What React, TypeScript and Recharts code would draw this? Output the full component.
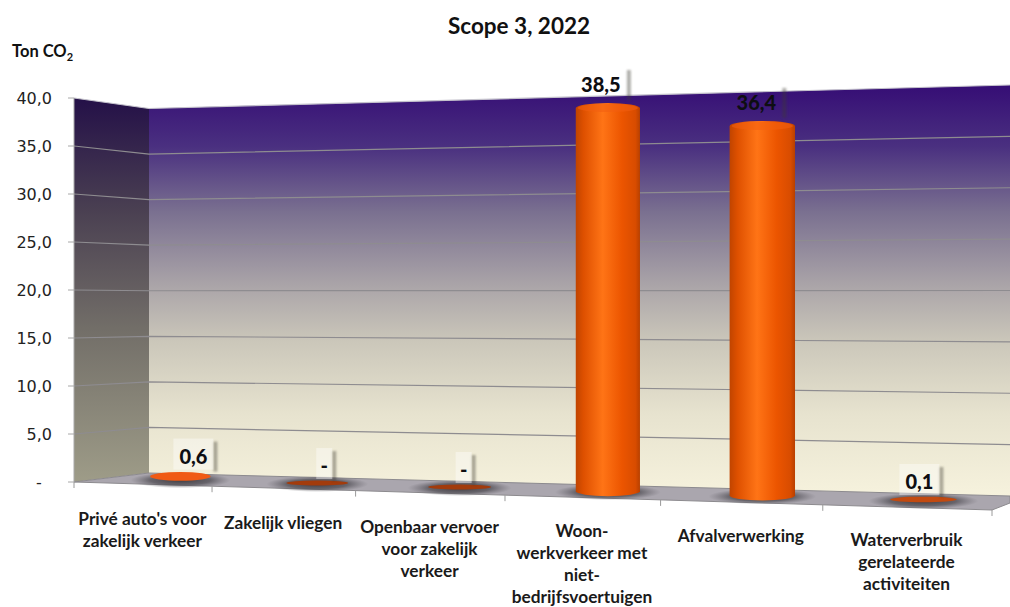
import { BarChart, Bar, XAxis, YAxis, CartesianGrid, LabelList } from "recharts"

const categories = [
  "Privé auto's voor\nzakelijk verkeer",
  "Zakelijk vliegen",
  "Openbaar vervoer\nvoor zakelijk\nverkeer",
  "Woon-\nwerkverkeer met\nniet-\nbedrijfsvoertuigen",
  "Afvalverwerking",
  "Waterverbruik\ngerelateerde\nactiviteiten",
]
const tonCo2 = [0.6, 0, 0, 38.5, 36.4, 0.1]
const yTicks = [0, 5, 10, 15, 20, 25, 30, 35, 40]

const chartData = categories.map((name, i) => ({ name, value: tonCo2[i] }))

// flat plot rectangle, everything 3D is projected from it
const LEFT = 74
const RIGHT = 992
const TOP = 98
const BOTTOM = 482

// sideways shift of each value label against its column
const labelNudge = [13, 7, 4, -7, -6, -4]

const fmt = (v: number) => (v === 0 ? "-" : v.toFixed(1).replace(".", ","))
const fmtTick = (v: number) => (v === 0 ? "-\u00a0\u00a0" : v.toFixed(1).replace(".", ","))

// perspective squeeze along the width of the floor
const warp = (t: number) => t / (1.13 - 0.13 * t)
const toT = (x: number) => (x - LEFT) / (RIGHT - LEFT)
const frontX = (t: number) => LEFT + (RIGHT - LEFT) * warp(t)
const frontY = (x: number) => BOTTOM + (x - LEFT) * 0.0305
const columnX = (t: number) => 113.5 + 892.5 * warp(t)
const columnBase = (x: number) => 483 + 0.028 * (x - 316)
// columns further right stand closer to the viewer
const heightScale = (t: number) => 0.963 + 0.126 * t

const cornerY = (v: number) => 473 - 364.5 * v
const farY = (v: number) => 496 - 411 * v

function WallLine(props: any) {
  const v = (BOTTOM - props.y1) / (BOTTOM - TOP)
  if (v < 0.01) return <g />
  const top = v > 0.99
  return (
    <polyline
      points={`${LEFT},${props.y1} 149,${cornerY(v)} 1010,${farY(v)}`}
      fill="none"
      stroke={top ? "#c4c2cc" : "#8e8c90"}
      strokeWidth={1.2}
    />
  )
}

function Column(props: any) {
  const { x, width, height, value } = props
  const t = toT(x + width / 2)
  const cx = columnX(t)
  const w = width * (1 + 0.12 * t)
  const rx = w / 2
  const base = columnBase(cx)
  const h = height * heightScale(t)
  const top = base - h
  const tall = value > 10
  const ry = 5
  const flatFill = value === 0 ? "#a23b0c" : value < 0.5 ? "#c24a10" : "#f05a14"
  return (
    <g>
      <ellipse cx={cx} cy={base + 1} rx={rx * 1.65} ry={8} fill="url(#floorShadow)" />
      {tall ? (
        <>
          <path
            d={`M${cx - rx},${top} A${rx},${ry} 0 0 1 ${cx + rx},${top} L${cx + rx},${base} A${rx},${ry} 0 0 1 ${cx - rx},${base} Z`}
            fill="url(#columnBody)"
          />
          <ellipse cx={cx} cy={top} rx={rx - 2} ry={ry - 1} fill="#f25e10" opacity={0.55} />
        </>
      ) : (
        <ellipse cx={cx} cy={base - h / 2} rx={rx} ry={2.5 + h / 3} fill={flatFill} />
      )}
    </g>
  )
}

function ValueLabel(props: any) {
  const { x, y, width, value, index } = props
  const t = toT(x + width / 2)
  const cx = columnX(t)
  const top = columnBase(cx) - (BOTTOM - y) * heightScale(t)
  const tx = cx + labelNudge[index]
  const ty = top - (value > 10 ? 24 : 18)
  const half = value === 0 ? 8 : value > 10 ? 26 : 20
  return (
    <g>
      <rect x={tx + half} y={ty - 14} width={4} height={30} fill="#3c3a30" opacity={0.4} filter="url(#soft)" />
      {value < 10 && <rect x={tx - half} y={ty - 17} width={half * 2} height={31} fill="#ffffff" opacity={0.4} />}
      <text
        x={tx}
        y={ty}
        textAnchor="middle"
        dominantBaseline="central"
        fontFamily="Lato"
        fontWeight={900}
        fontSize={20}
        fill="#0e0e12"
      >
        {fmt(value)}
      </text>
    </g>
  )
}

function CategoryTick(props: any) {
  const { x, payload } = props
  const cx = frontX(toT(x))
  const y0 = 521 + 0.028 * (cx - 142)
  return (
    <text textAnchor="middle" fontFamily="Lato" fontWeight="bold" fontSize={17.3} fill="#1a1a1a">
      {String(payload.value)
        .split("\n")
        .map((line, i) => (
          <tspan key={i} x={cx} y={y0 + i * 22 + 4}>
            {line}
          </tspan>
        ))}
    </text>
  )
}

export default function App() {
  const edges = categories.map((_, i) => i / categories.length).concat(1)
  return (
    <div style={{ position: "absolute", left: 0, top: 0, width: 1010, height: 607, background: "#fff", overflow: "hidden" }}>
      <BarChart
        width={1010}
        height={607}
        data={chartData}
        barSize={60}
        margin={{ top: TOP, right: 1010 - RIGHT, bottom: 0, left: 0 }}
      >
        <defs>
          <linearGradient id="backWall" gradientUnits="userSpaceOnUse" x1="0" y1="90" x2="0" y2="496">
            <stop offset="0" stopColor="#371076" />
            <stop offset="0.14" stopColor="#4a3080" />
            <stop offset="0.3" stopColor="#7a7090" />
            <stop offset="0.48" stopColor="#aaa4a8" />
            <stop offset="0.62" stopColor="#cbc7ba" />
            <stop offset="0.8" stopColor="#e7e3cf" />
            <stop offset="1" stopColor="#f6f2dd" />
          </linearGradient>
          <linearGradient id="sideWall" gradientUnits="userSpaceOnUse" x1="0" y1="98" x2="0" y2="482">
            <stop offset="0" stopColor="#241048" />
            <stop offset="0.3" stopColor="#4b4152" />
            <stop offset="0.6" stopColor="#726e68" />
            <stop offset="1" stopColor="#9e9c88" />
          </linearGradient>
          <linearGradient id="columnBody" x1="0" y1="0" x2="1" y2="0">
            <stop offset="0" stopColor="#c04400" />
            <stop offset="0.12" stopColor="#de5000" />
            <stop offset="0.42" stopColor="#ff7416" />
            <stop offset="0.72" stopColor="#ec5500" />
            <stop offset="0.93" stopColor="#d84c00" />
            <stop offset="1" stopColor="#b84000" />
          </linearGradient>
          <radialGradient id="floorShadow">
            <stop offset="0" stopColor="#2c2a30" stopOpacity={0.85} />
            <stop offset="0.6" stopColor="#3a383e" stopOpacity={0.6} />
            <stop offset="1" stopColor="#55525a" stopOpacity={0} />
          </radialGradient>
          <filter id="soft" x="-200%" y="-20%" width="500%" height="140%">
            <feGaussianBlur stdDeviation="1.3" />
          </filter>
        </defs>

        <polygon points={`${LEFT},${TOP} 149,${cornerY(1)} 149,${cornerY(0)} ${LEFT},${BOTTOM}`} fill="url(#sideWall)" />
        <polygon points={`149,${cornerY(1)} 1010,${farY(1)} 1010,${farY(0)} 149,${cornerY(0)}`} fill="url(#backWall)" />
        <polygon
          points={`${LEFT},${BOTTOM} 149,${cornerY(0)} 1010,${farY(0)} 1010,503 ${RIGHT},510`}
          fill="#aaa6ae"
          stroke="#8c8a8e"
          strokeWidth={1}
        />
        {edges.map((t) => {
          const ex = frontX(t)
          return <line key={t} x1={ex} y1={frontY(ex)} x2={ex} y2={frontY(ex) + 6} stroke="#9a9a9a" />
        })}

        <CartesianGrid zIndex={1} vertical={false} horizontal={(p: any) => <WallLine key={p.key} {...p} />} />
        <XAxis dataKey="name" height={607 - BOTTOM} interval={0} axisLine={false} tickLine={false} tick={<CategoryTick />} />
        <YAxis
          width={LEFT}
          domain={[0, 40]}
          ticks={yTicks}
          interval={0}
          tickFormatter={fmtTick}
          axisLine={{ stroke: "#a8a8a8" }}
          tickLine={{ stroke: "#a8a8a8" }}
          tickSize={6}
          tickMargin={16}
          tick={{ fontFamily: "DejaVu Sans", fontSize: 16, fill: "#222" }}
        />
        <Bar dataKey="value" shape={<Column />} isAnimationActive={false}>
          <LabelList dataKey="value" content={<ValueLabel />} />
        </Bar>

        <text x={519} y={25} dominantBaseline="central" textAnchor="middle" fontFamily="Lato" fontWeight="bold" fontSize={22.5} fill="#111">
          Scope 3, 2022
        </text>
        <text x={12} y={57} fontFamily="Lato" fontWeight="bold" fontSize={16.5} fill="#111">
          Ton CO
          <tspan dy={4} fontSize={11}>
            2
          </tspan>
        </text>
      </BarChart>
    </div>
  )
}
